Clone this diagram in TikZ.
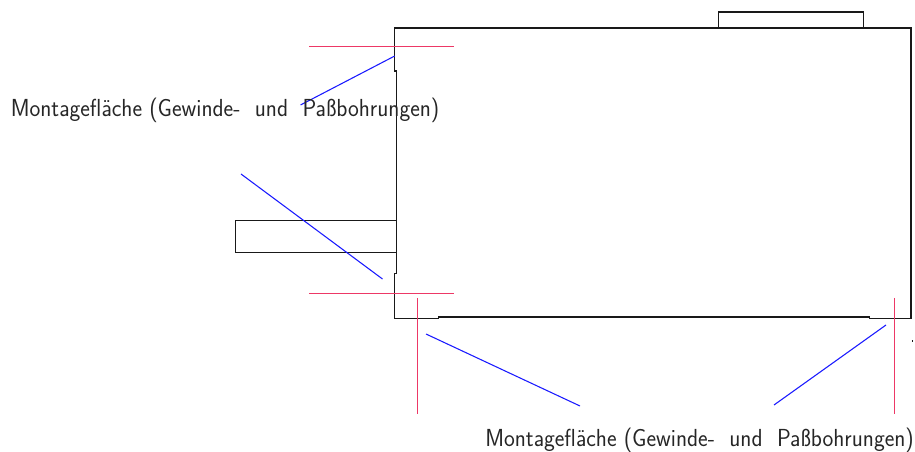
\documentclass[tikz,border=0pt]{standalone}
\usepackage{graphicx}
\definecolor{centerred}{rgb}{0.93,0.22,0.40}
\definecolor{leaderblue}{rgb}{0.10,0.10,1}
\tikzset{
  outline/.style={color=black!90,line width=0.85pt},
  centerline/.style={color=centerred,line width=1pt},
  leader/.style={color=leaderblue,line width=0.8pt},
  schrift/.style={anchor=base west,inner sep=0pt,font=\fontsize{18.5}{20}\sffamily,color=black!85}
}
\newcommand{\flaeche}{\scalebox{0.93}[1]{Montagefl\"ache (Gewinde-\ \ und\ \ Pa\ss bohrungen)}}
\begin{document}
\begin{tikzpicture}[x=0.75pt,y=0.75pt,yscale=-1,xscale=1]
\useasboundingbox (0,0) rectangle (915,452);

%Housing
\draw [outline] (394.7,28) -- (911,28) -- (911,318.5) -- (869.3,318.5) -- (869.3,317) -- (438.3,317) -- (438.3,318.5) -- (394.7,318.5) -- (394.7,273.3) -- (396.3,273.3) -- (396.3,71) -- (394.7,71) -- cycle ;
%Top plate
\draw [outline] (718.3,28) -- (718.3,12) -- (863.5,12) -- (863.5,28) ;
%Shaft
\draw [outline] (396.3,220.7) -- (235.3,220.7) -- (235.3,252.7) -- (396.3,252.7) ;
%Red lines
\draw [centerline] (309,46.7) -- (453.7,46.7) ;
\draw [centerline] (309,293.3) -- (453.7,293.3) ;
\draw [centerline] (417.3,298) -- (417.3,414) ;
\draw [centerline] (894.7,298) -- (894.7,414) ;
%Blue lines
\draw [leader] (300.5,105) -- (394.7,56) ;
\draw [leader] (241,174) -- (382.5,279) ;
\draw [leader] (426,334) -- (580,406) ;
\draw [leader] (774,405) -- (886,325) ;
%Dot
\draw [outline] (912,341) -- (912.8,341) ;

% Text Node
\node (lblOben) at (10.5,117) [schrift] {\flaeche};
% Text Node
\node (lblUnten) at (485,446.5) [schrift] {\flaeche};
\end{tikzpicture}
\end{document}
